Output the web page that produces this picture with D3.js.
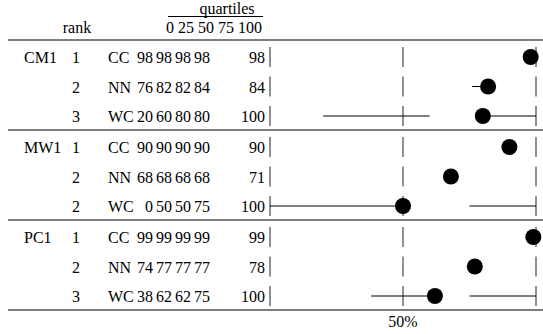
<!DOCTYPE html>
<html>
<head>
<meta charset="utf-8">
<script src="https://cdn.jsdelivr.net/npm/d3@7"></script>
<style>
  html, body { margin: 0; padding: 0; background: #fff; }
  svg { display: block; }
  svg text { font-family: "Liberation Serif", "DejaVu Serif", serif !important; font-size: 16px; }
</style>
</head>
<body>
<svg id="chart" width="543" height="334"></svg>
<script>
// Groups of the table and the rows belonging to each
const groups = ["CM1", "MW1", "PC1"];
const rowGroup = ["CM1", "CM1", "CM1", "MW1", "MW1", "MW1", "PC1", "PC1", "PC1"];
const ranks = [1, 2, 3, 1, 2, 2, 1, 2, 3];
const methods = ["CC", "NN", "WC", "CC", "NN", "WC", "CC", "NN", "WC"];
// Quartiles per row: min, 25%, median, 75%, max
const q0 = [98, 76, 20, 90, 68, 0, 99, 74, 38];
const q1 = [98, 82, 60, 90, 68, 50, 99, 77, 62];
const q2 = [98, 82, 80, 90, 68, 50, 99, 77, 62];
const q3 = [98, 84, 80, 90, 68, 75, 99, 77, 75];
const q4 = [98, 84, 100, 90, 71, 100, 99, 78, 100];
const quartileLabels = ["0", "25", "50", "75", "100"];
const refTicks = [0, 50, 100];

const svg = d3.select("#chart");

const x = d3.scaleLinear().domain([0, 100]).range([270, 536]);
const groupY = d3.scaleBand().domain(groups).range([40, 310]);
const rowY = d3.scalePoint().domain([0, 1, 2]).range([17, 76]);
const yOf = i => groupY(rowGroup[i]) + rowY(i % 3);

const rows = d3.range(methods.length);

// Header
svg.append("text").attr("x", 77).attr("y", 33).attr("text-anchor", "middle").text("rank");
svg.append("text").attr("x", 227).attr("y", 14).attr("text-anchor", "middle").text("quartiles");
svg.append("line").attr("x1", 168).attr("x2", 263).attr("y1", 16.5).attr("y2", 16.5)
  .attr("stroke", "#000").attr("stroke-width", 1);
svg.append("text").attr("x", 262).attr("y", 33).attr("text-anchor", "end")
  .text(quartileLabels.join(" "));

// Horizontal rules
const ruleY = [40, ...groups.slice(1).map(g => groupY(g)), 310];
svg.selectAll("line.rule").data(ruleY).join("line")
  .attr("class", "rule")
  .attr("x1", 8).attr("x2", 543)
  .attr("y1", d => d).attr("y2", d => d)
  .attr("stroke", "#555").attr("stroke-width", 1.4);

// Group labels
svg.selectAll("text.group").data(groups).join("text")
  .attr("class", "group")
  .attr("x", 24).attr("y", g => groupY(g) + rowY(0) + 6)
  .text(g => g);

// Row text columns
const rowText = svg.selectAll("g.row").data(rows).join("g")
  .attr("class", "row")
  .attr("transform", i => `translate(0,${yOf(i) + 6})`);
rowText.append("text").attr("x", 76).attr("text-anchor", "middle").text(i => ranks[i]);
rowText.append("text").attr("x", 108).text(i => methods[i]);
const numCols = [[q0, 153], [q1, 172], [q2, 191], [q3, 210], [q4, 265]];
numCols.forEach(([arr, xr]) => {
  rowText.append("text").attr("x", xr).attr("text-anchor", "end").text(i => arr[i]);
});

// Reference ticks at 0, 50 and 100 in every row
rows.forEach(i => {
  svg.append("g").selectAll("line").data(refTicks).join("line")
    .attr("x1", d => x(d)).attr("x2", d => x(d))
    .attr("y1", yOf(i) - 10).attr("y2", yOf(i) + 10)
    .attr("stroke", "#555").attr("stroke-width", 1.3);
});

// Whiskers: min to lower quartile, upper quartile to max
const marks = svg.append("g");
marks.selectAll("line.lo").data(rows.filter(i => q1[i] > q0[i])).join("line")
  .attr("class", "lo")
  .attr("x1", i => x(q0[i])).attr("x2", i => x(q1[i]))
  .attr("y1", yOf).attr("y2", yOf)
  .attr("stroke", "#000").attr("stroke-width", 1);
marks.selectAll("line.hi").data(rows.filter(i => q4[i] > q3[i])).join("line")
  .attr("class", "hi")
  .attr("x1", i => x(q3[i])).attr("x2", i => x(q4[i]))
  .attr("y1", yOf).attr("y2", yOf)
  .attr("stroke", "#000").attr("stroke-width", 1);

// Median dots
marks.selectAll("circle").data(rows).join("circle")
  .attr("cx", i => x(q2[i])).attr("cy", yOf).attr("r", 8)
  .attr("fill", "#000");

// Axis label for the 50% reference
svg.append("text").attr("x", x(50)).attr("y", 327).attr("text-anchor", "middle").text("50%");
</script>
</body>
</html>
